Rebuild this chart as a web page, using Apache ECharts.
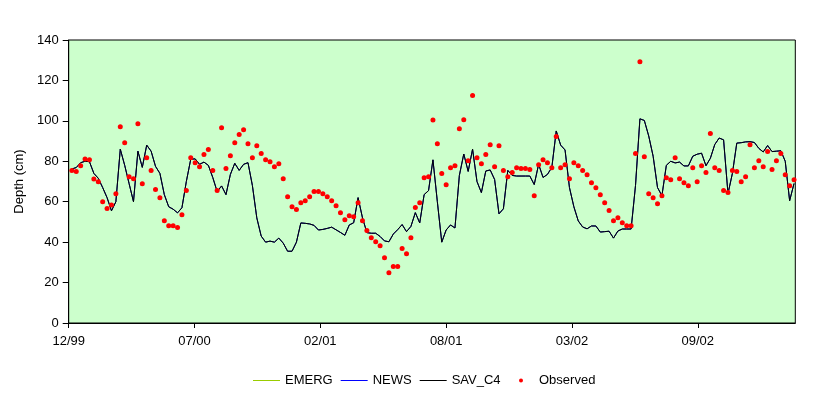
<!DOCTYPE html>
<html>
<head>
<meta charset="utf-8">
<script src="https://cdn.jsdelivr.net/npm/echarts@6.0.0/dist/echarts.min.js"></script>
<style>
  html, body { margin: 0; padding: 0; background: #fff; }
  #chart { width: 831px; height: 398px; }
</style>
</head>
<body>
<div id="chart"></div>
<script>
// weekly samples, day offsets from the left end of the x axis
const startDay = 5
const stepDays = 7
const axisDays = 1155

const tickDays = [0, 200, 400, 600, 800, 1000]
const tickLabels = ['12/99', '07/00', '02/01', '08/01', '03/02', '09/02']

// observed depth (cm)
const observed = [
  75.4, 74.9, 77.8, 81.1, 80.7, 71.2, 69.9, 60.0, 56.6, 58.4,
  64.0, 97.1, 89.2, 72.4, 71.4, 98.6, 68.9, 81.8, 75.4, 66.0,
  62.0, 50.6, 48.1, 48.1, 47.2, 53.6, 65.5, 81.8, 79.3, 77.3,
  83.3, 85.8, 75.4, 65.5, 96.6, 76.4, 82.8, 89.2, 93.2, 95.6,
  88.7, 81.8, 87.7, 83.8, 80.8, 79.8, 77.3, 78.8, 71.4, 62.5,
  57.5, 56.1, 59.5, 60.5, 62.5, 65.0, 65.0, 64.0, 62.5, 60.5,
  58.0, 54.6, 51.1, 53.1, 52.6, 59.5, 50.6, 45.7, 42.2, 40.2,
  38.2, 32.3, 24.9, 27.9, 27.9, 36.8, 34.3, 42.2, 57.1, 59.5,
  71.9, 72.4, 100.4, 88.7, 73.9, 68.4, 76.8, 77.8, 96.1, 100.6,
  80.3, 112.5, 81.8, 78.8, 83.3, 88.2, 77.3, 87.7, 75.4, 72.4,
  74.4, 76.8, 76.4, 76.4, 75.9, 63.0, 78.3, 80.8, 79.3, 76.8,
  92.2, 76.8, 78.3, 71.4, 79.3, 77.8, 75.4, 73.4, 69.4, 66.9,
  63.5, 59.5, 55.6, 50.6, 52.1, 49.6, 48.1, 48.1, 83.8, 129.3,
  82.3, 64.0, 62.0, 59.0, 63.0, 71.9, 70.9, 81.8, 71.4, 69.4,
  67.9, 76.8, 69.9, 77.8, 74.4, 93.7, 76.8, 75.4, 65.5, 64.5,
  75.4, 74.9, 69.9, 72.4, 88.2, 76.8, 80.3, 77.3, 84.8, 75.9,
  80.3, 83.8, 73.4, 67.9, 70.9
]

// simulated depth, the three model runs lie on top of each other
const emerg = [
  76.2, 76.9, 79.3, 80, 79.8, 74, 71.6, 67, 62, 55.5,
  60, 86, 78, 69, 60, 85, 77, 88, 85, 77.5,
  74, 63.5, 57.5, 56.3, 54.5, 57, 70, 81, 81.2, 78.5,
  79.6, 78, 72, 65, 67.8, 63.5, 73.5, 79, 75.5, 78.5,
  79.3, 68, 52, 43, 40, 40.5, 40, 42, 39.5, 35.5,
  35.5, 40, 49.5, 49.3, 49, 48.3, 46, 46.3, 46.8, 47.4,
  46.1, 44.8, 43.4, 48.5, 49.6, 62, 52, 44.7, 44.4, 44.4,
  42.8, 40.6, 40.2, 44, 46.2, 48.7, 45.2, 47.8, 54.6, 49.5,
  63.5, 65.5, 80.7, 60, 40, 46, 48.5, 47, 73, 83.6,
  75, 86, 70, 64.5, 75.2, 75.7, 71, 54, 56.5, 75.5,
  73, 72.7, 72.7, 72.7, 72.7, 68.5, 78.5, 72, 73.5, 77,
  95, 88, 85.6, 67, 57.5, 50.5, 47.5, 46.6, 48, 48,
  45, 45.2, 45.4, 42, 45.5, 46.5, 46.5, 46.5, 68, 101,
  100.2, 92.5, 82.5, 67, 63, 78, 80, 79.2, 79.6, 77.7,
  77.7, 82.5, 83.5, 84, 77.8, 81.5, 88.3, 91.5, 90.6, 64,
  74, 89, 89.2, 89.6, 89.7, 89.3, 86.4, 84.6, 87.8, 84.8,
  85, 85.2, 80, 60.5, 69
]
const news = emerg.slice()
const savC4 = emerg.slice()

const toPoints = arr => arr.map((v, i) => [startDay + stepDays * i, v])

const chart = echarts.init(document.getElementById('chart'))

const font = 'Liberation Sans, Arial, sans-serif'
const lineIcon = 'path://M0,0 H27 V1 H0 Z' // plain line in the legend, no symbol
const legendText = { fontSize: 13, color: '#000', fontFamily: font }

const lineSeries = (name, data, color) => ({
  name,
  type: 'line',
  data: toPoints(data),
  symbol: 'none',
  showSymbol: false,
  lineStyle: { color, width: 1 },
  itemStyle: { color },
  z: 2,
})

chart.setOption({
  animation: false,
  backgroundColor: '#ffffff',
  textStyle: { fontFamily: font },
  grid: {
    left: 68.7, right: 35.7, top: 40, bottom: 75,
    show: true, backgroundColor: '#CCFFCC', borderColor: '#000', borderWidth: 1,
  },
  legend: [
    {
      left: 248, top: 369,
      itemWidth: 27, itemHeight: 4, itemGap: 8,
      textStyle: legendText,
      data: [
        { name: 'EMERG', icon: lineIcon },
        { name: 'NEWS', icon: lineIcon },
        { name: 'SAV_C4', icon: lineIcon },
      ],
    },
    {
      // the dot sits in the middle of its slot, so its own small legend
      left: 514, top: 369,
      itemWidth: 4, itemHeight: 4,
      textStyle: { ...legendText, padding: [0, 0, 0, 11] },
      data: [{ name: 'Observed', icon: 'circle' }],
    },
  ],
  xAxis: {
    type: 'value',
    min: 0,
    max: axisDays,
    interval: 200,
    axisLine: { lineStyle: { color: '#000', width: 1 } },
    axisTick: { length: 5, customValues: tickDays, lineStyle: { color: '#000' } },
    axisLabel: {
      customValues: tickDays,
      margin: 12,
      fontSize: 13,
      color: '#000',
      formatter: v => tickLabels[tickDays.indexOf(v)] || '',
    },
    splitLine: { show: false },
  },
  yAxis: {
    type: 'value',
    min: 0, max: 140, interval: 20,
    name: 'Depth (cm)',
    nameLocation: 'middle',
    nameGap: 40,
    nameTextStyle: { fontSize: 13, color: '#000' },
    axisLine: { show: true, lineStyle: { color: '#000', width: 1 } },
    axisTick: { show: true, length: 6, lineStyle: { color: '#000' } },
    axisLabel: { fontSize: 13, color: '#000', margin: 10 },
    splitLine: { show: false },
  },
  series: [
    lineSeries('EMERG', emerg, '#99CC00'),
    lineSeries('NEWS', news, '#0000FF'),
    lineSeries('SAV_C4', savC4, '#000000'),
    {
      name: 'Observed',
      type: 'scatter',
      data: toPoints(observed),
      symbol: 'circle',
      symbolSize: 5,
      itemStyle: { color: '#FF0000', opacity: 1 },
      z: 3,
    },
  ],
})
</script>
</body>
</html>
